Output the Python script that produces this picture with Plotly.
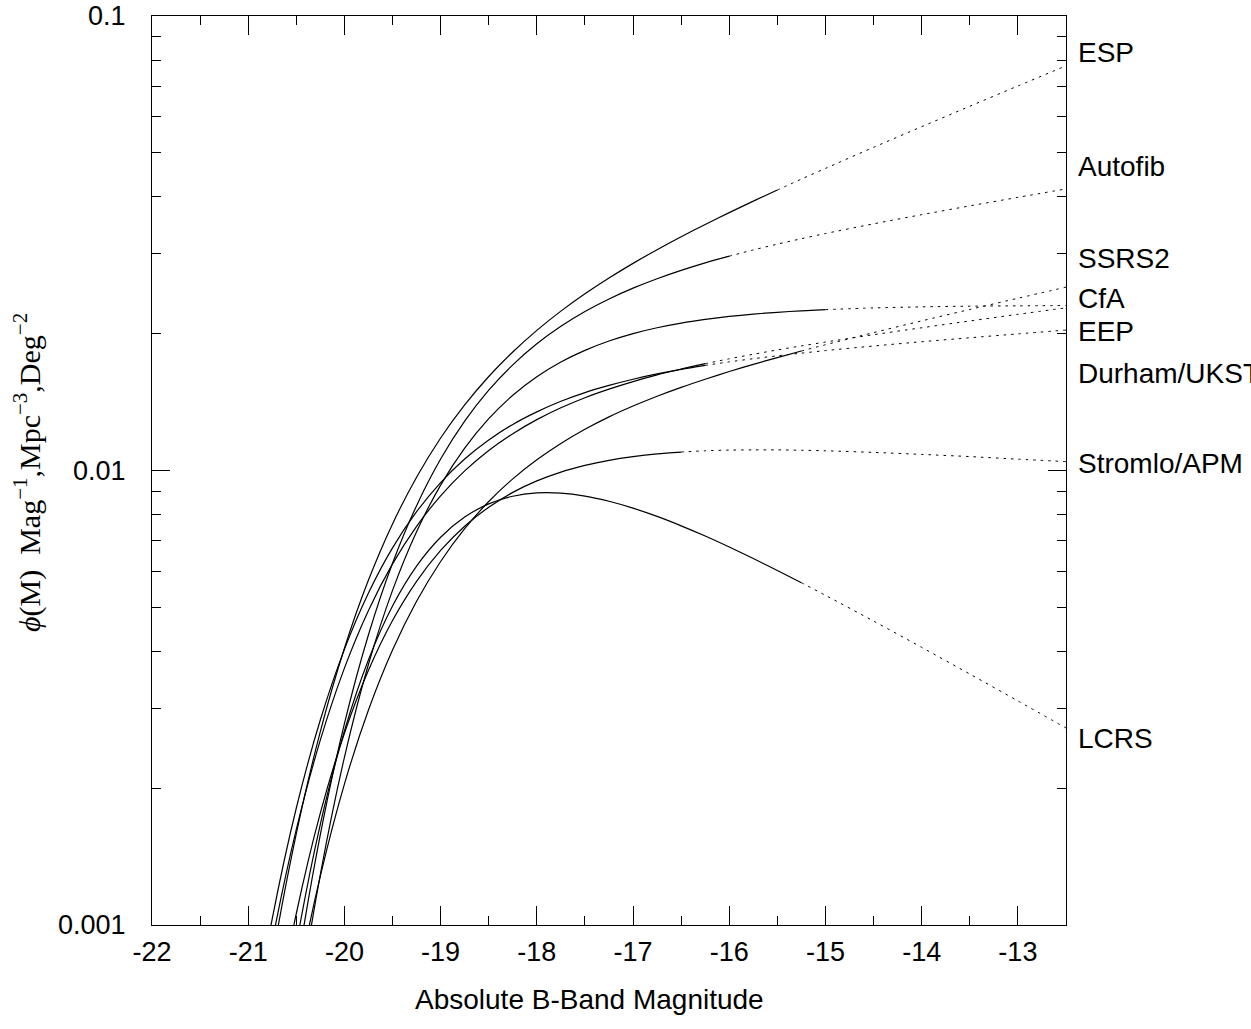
import plotly.graph_objects as go

# ---------------- data ----------------
surveys = ["ESP", "Autofib", "SSRS2", "CfA", "EEP", "Durham/UKST", "Stromlo/APM", "LCRS"]

magnitude = [-21.00, -20.75, -20.50, -20.25, -20.00, -19.75, -19.50, -19.25, -19.00, -18.75,
             -18.50, -18.25, -18.00, -17.75, -17.50, -17.25, -17.00, -16.75, -16.50, -16.25,
             -16.00, -15.75, -15.50, -15.25, -15.00, -14.50, -14.00, -13.50, -13.00, -12.50]

# faintest magnitude covered by each survey (solid part); fainter = extrapolation (dotted)
solid_end = [-15.50, -16.00, -15.25, -15.00, -16.25, -16.25, -16.50, -15.25]

phi_esp = [0.0003807, 0.0008394, 0.001589, 0.002667, 0.004064, 0.00574, 0.00763, 0.009666, 0.01179, 0.01394,
           0.0161, 0.01823, 0.02034, 0.02242, 0.02448, 0.02652, 0.02856, 0.03061, 0.03268, 0.03478,
           0.03693, 0.03914, 0.04141, 0.04377, 0.04621, 0.05141, 0.05708, 0.0633, 0.07015, 0.07769]
phi_autofib = [0.0001085, 0.0003258, 0.0007841, 0.001582, 0.002774, 0.004352, 0.006251, 0.008369, 0.0106, 0.01284,
               0.01502, 0.01708, 0.019, 0.02076, 0.02237, 0.02384, 0.02519, 0.02642, 0.02756, 0.02863,
               0.02962, 0.03057, 0.03148, 0.03236, 0.03322, 0.03489, 0.03655, 0.03821, 0.0399, 0.04164]
phi_ssrs2 = [0.0001419, 0.0003494, 0.0007187, 0.001282, 0.002042, 0.002971, 0.004026, 0.005154, 0.006307, 0.007447,
             0.008545, 0.009586, 0.01056, 0.01147, 0.01232, 0.01312, 0.01386, 0.01457, 0.01524, 0.01588,
             0.01651, 0.01712, 0.01772, 0.01832, 0.01891, 0.02011, 0.02134, 0.02261, 0.02393, 0.02532]
phi_cfa = [0.00007326, 0.0002392, 0.0006125, 0.001292, 0.002339, 0.003747, 0.005448, 0.007334, 0.009287, 0.0112,
           0.013, 0.01464, 0.01608, 0.01733, 0.01838, 0.01927, 0.02001, 0.02061, 0.0211, 0.0215,
           0.02183, 0.02209, 0.02229, 0.02246, 0.02259, 0.02279, 0.02291, 0.02299, 0.02303, 0.02307]
phi_eep = [0.0004525, 0.0009202, 0.001623, 0.002554, 0.003675, 0.004923, 0.00623, 0.007537, 0.008796, 0.009978,
           0.01107, 0.01205, 0.01294, 0.01374, 0.01446, 0.0151, 0.01569, 0.01623, 0.01672, 0.01718,
           0.01761, 0.01802, 0.01842, 0.0188, 0.01917, 0.0199, 0.02061, 0.02133, 0.02206, 0.0228]
phi_durham = [0.0005114, 0.001033, 0.001809, 0.002828, 0.004041, 0.005375, 0.006756, 0.008116, 0.009407, 0.0106,
              0.01167, 0.01263, 0.01346, 0.0142, 0.01484, 0.01539, 0.01588, 0.01631, 0.01669, 0.01703,
              0.01734, 0.01762, 0.01788, 0.01812, 0.01836, 0.01879, 0.0192, 0.01959, 0.01998, 0.02037]
phi_stromlo = [0.0002473, 0.0005569, 0.00106, 0.001765, 0.002641, 0.003634, 0.004676, 0.005704, 0.00667, 0.007542,
               0.008303, 0.00895, 0.009486, 0.00992, 0.01026, 0.01053, 0.01073, 0.01088, 0.01098, 0.01105,
               0.01109, 0.0111, 0.0111, 0.01108, 0.01105, 0.01096, 0.01085, 0.01073, 0.01059, 0.01046]
phi_lcrs = [0.0001497, 0.0004111, 0.0009044, 0.001668, 0.002673, 0.003834, 0.005034, 0.006161, 0.007132, 0.007898,
            0.008443, 0.008778, 0.008925, 0.008917, 0.008784, 0.008558, 0.008264, 0.007924, 0.007556, 0.007174,
            0.006786, 0.006402, 0.006026, 0.005663, 0.005313, 0.004663, 0.004082, 0.003566, 0.003112, 0.002713]

phi_all = [phi_esp, phi_autofib, phi_ssrs2, phi_cfa, phi_eep, phi_durham, phi_stromlo, phi_lcrs]

x_tick_vals = [-22, -21, -20, -19, -18, -17, -16, -15, -14, -13]
x_tick_text = ["-22", "-21", "-20", "-19", "-18", "-17", "-16", "-15", "-14", "-13"]
y_tick_vals = [0.001, 0.01, 0.1]
y_tick_text = ["0.001", "0.01", "0.1"]

# ---------------- layout constants ----------------
W, H = 1251, 1029
L, R, T, B = 152, 185, 16, 104
PW, PH = W - L - R, H - T - B

def px_x(p):
    return (p - L) / PW

def px_y(p):
    return (H - B - p) / PH

label_y_px = [52.5, 167, 258, 299, 331, 374, 463.5, 738]

SANS = "Liberation Sans, Arial, Helvetica, sans-serif"
SERIF = "Liberation Serif, Times New Roman, serif"

fig = go.Figure()
for name, phi, end in zip(surveys, phi_all, solid_end):
    xs_s = [m for m in magnitude if m <= end]
    ys_s = [v for m, v in zip(magnitude, phi) if m <= end]
    xs_d = [m for m in magnitude if m >= end]
    ys_d = [v for m, v in zip(magnitude, phi) if m >= end]
    fig.add_trace(go.Scatter(x=xs_s, y=ys_s, mode="lines", name=name, showlegend=False,
                             line=dict(color="black", width=1.2, shape="spline", smoothing=0.8)))
    fig.add_trace(go.Scatter(x=xs_d, y=ys_d, mode="lines", name=name + " (extrapolated)", showlegend=False,
                             line=dict(color="black", width=1, dash="2.5px,5px", shape="spline", smoothing=0.8)))

for name, yp in zip(surveys, label_y_px):
    fig.add_annotation(text=name, xref="paper", yref="paper", x=px_x(1076), y=px_y(yp),
                       xanchor="left", yanchor="middle", showarrow=False,
                       font=dict(family=SANS, size=28, color="black"))

fig.add_annotation(text="Absolute B-Band Magnitude", xref="paper", yref="paper",
                   x=px_x(589), y=px_y(999), xanchor="center", yanchor="middle", showarrow=False,
                   font=dict(family=SANS, size=28, color="black"))
fig.add_annotation(text="<i>ϕ</i>(M)  Mag<sup>−1</sup>,Mpc<sup>−3</sup>,Deg<sup>−2</sup>",
                   xref="paper", yref="paper", x=px_x(27), y=px_y(473), textangle=-90,
                   xanchor="center", yanchor="middle", showarrow=False,
                   font=dict(family=SERIF, size=30, color="black"))

fig.update_xaxes(range=[-22, -12.5], tickmode="array", tickvals=x_tick_vals, ticktext=x_tick_text,
                 ticks="inside", ticklen=19, tickwidth=1, tickcolor="black",
                 showline=True, linecolor="black", linewidth=1.2, mirror="ticks",
                 showgrid=False, zeroline=False, ticklabelstandoff=2,
                 tickfont=dict(family=SANS, size=27, color="black"),
                 minor=dict(dtick=0.5, tick0=-22, ticks="inside", ticklen=9, tickwidth=1,
                            tickcolor="black", showgrid=False))
fig.update_yaxes(type="log", range=[-3, -1], tickmode="array", tickvals=y_tick_vals, ticktext=y_tick_text,
                 ticks="inside", ticklen=18, tickwidth=1, tickcolor="black",
                 showline=True, linecolor="black", linewidth=1.2, mirror="ticks",
                 showgrid=False, zeroline=False, ticklabelstandoff=20,
                 tickfont=dict(family=SANS, size=27, color="black"),
                 minor=dict(tickmode="array",
                            tickvals=[0.002, 0.003, 0.004, 0.005, 0.006, 0.007, 0.008, 0.009,
                                      0.02, 0.03, 0.04, 0.05, 0.06, 0.07, 0.08, 0.09],
                            ticks="inside", ticklen=9, tickwidth=1, tickcolor="black", showgrid=False))

fig.update_layout(width=W, height=H, margin=dict(l=L, r=R, t=T, b=B, autoexpand=False),
                  paper_bgcolor="white", plot_bgcolor="white", showlegend=False)

fig.write_html("out.html")
